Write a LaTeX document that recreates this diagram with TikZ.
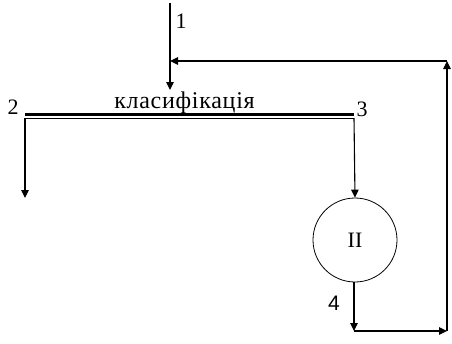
\documentclass[tikz,border=0pt]{standalone}
\usepackage{fontspec}
\setmainfont{Liberation Serif}
\newfontfamily\arialfont{Liberation Sans}
\usetikzlibrary{arrows.meta}
\begin{document}
\begin{tikzpicture}[x=1pt,y=-1pt,
  flow/.style={line width=1.1pt,-{Triangle[length=8pt,width=7.5pt]}},
  lbl/.style={inner sep=0pt,anchor=base,font=\fontsize{22}{24}\selectfont}]
\useasboundingbox (0,0) rectangle (452,343);
% classifier screen
\draw[line width=2.8pt] (25,114.5) -- (354,114.5);
\draw[line width=0.6pt] (25,118.3) -- (354,118.3);
\node[lbl,font=\fontsize{24}{26}\selectfont\addfontfeature{LetterSpace=3}] (cls) at (184.5,108) {класифікація};
\node[lbl] (n2) at (13,114) {2};
\node[lbl] (n3) at (362,116) {3};
% feed
\coordinate (in) at (170,3);
\coordinate (inend) at (170,90);
\draw[flow] (in) -- (inend);
\node[lbl] (n1) at (181,28) {1};
% left outlet
\coordinate (l1) at (25,118);
\coordinate (l2) at (25,198);
\draw[flow] (l1) -- (l2);
% right outlet to circle
\node[draw,circle,line width=0.8pt,minimum size=84pt,inner sep=0pt,font=\fontsize{22}{24}\selectfont] (mill) at (355,240) {II};
\coordinate (r1) at (354,118);
\draw[flow] (r1) -- (mill.north);
% return loop
\coordinate (b1) at (354,331);
\coordinate (b2) at (447,331);
\coordinate (t2) at (447,61);
\coordinate (t1) at (170,61);
\draw[flow] (mill.south -| b1) -- (b1);
\node[inner sep=0pt,anchor=base,font=\arialfont\fontsize{21}{24}\selectfont] (n4) at (334,310) {4};
\draw[flow] (b1) -- (b2);
\draw[flow] (b2) -- (t2);
\draw[flow] (t2) -- (t1);
\end{tikzpicture}
\end{document}
